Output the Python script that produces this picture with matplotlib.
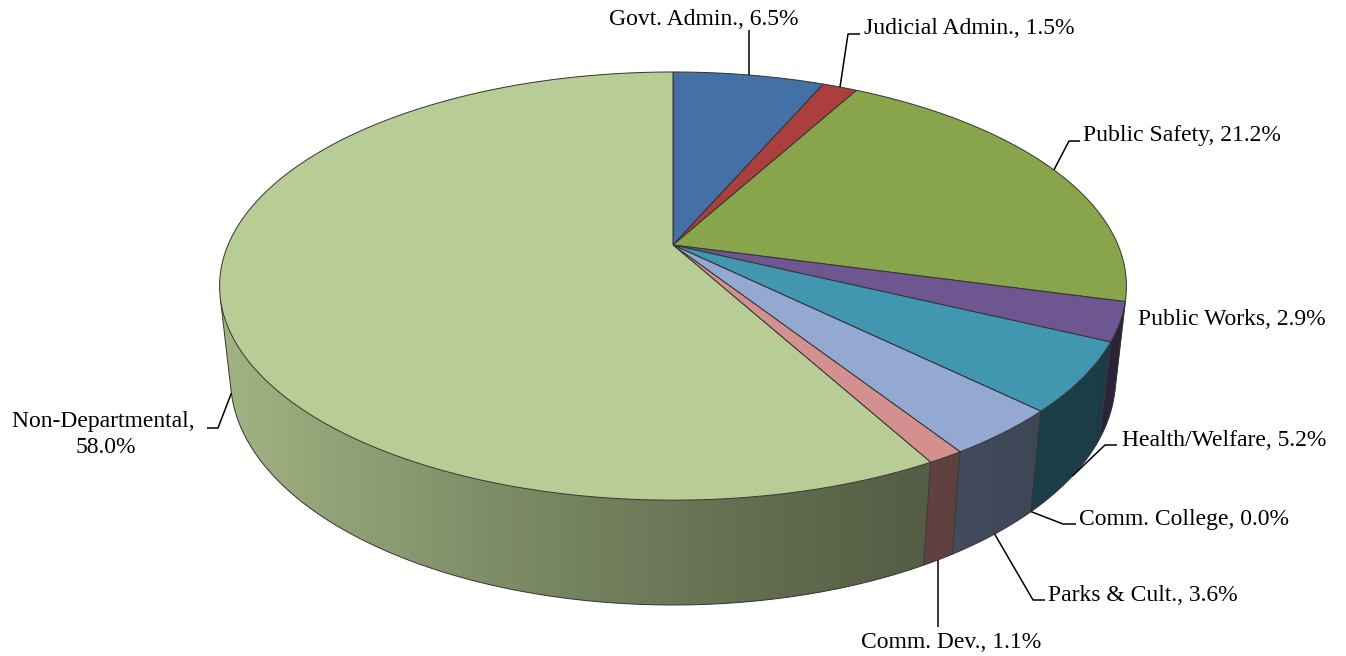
import numpy as np
import matplotlib
matplotlib.use("Agg")
import matplotlib.pyplot as plt
from matplotlib.collections import LineCollection
from matplotlib.patches import Polygon
from matplotlib.colors import to_rgb

# ---- data -------------------------------------------------------------
categories = ["Govt. Admin.", "Judicial Admin.", "Public Safety", "Public Works",
              "Health/Welfare", "Comm. College", "Parks & Cult.", "Comm. Dev.",
              "Non-Departmental"]
shares = [6.5, 1.5, 21.2, 2.9, 5.2, 0.0, 3.6, 1.1, 58.0]
colors = ["#4470A5", "#AA3F3D", "#88A54C", "#6E5691", "#4197B0",
          "#DB843D", "#93A9D1", "#D3908E", "#B8CC95"]

# label layout: (text x, text baseline y, alignment, leader elbow points)
label_layout = {
    "Govt. Admin.":     (704, 25, "center", [(None, 30)]),
    "Judicial Admin.":  (864, 34, "left", [(848, 34), (860, 34)]),
    "Public Safety":    (1083, 141, "left", [(1069, 141), (1080, 141)]),
    "Public Works":     (1138, 325, "left", []),
    "Health/Welfare":   (1122, 446, "left", [(1105, 445), (1117, 445)]),
    "Comm. College":    (1079, 525, "left", [(1063, 524), (1076, 524)]),
    "Parks & Cult.":    (1048, 601, "left", [(1033, 600), (1045, 600)]),
    "Comm. Dev.":       (951, 648, "center", [(None, 627)]),
    "Non-Departmental": (106, 427, "center", [(218, 428), (207, 428)]),
}

# ---- projection of the pie disc --------------------------------------
W, H = 1346, 656
CX, CY = 673.0, 245.0
PHI = np.arcsin(0.4634)      # viewing elevation
DIST = 4.62                  # camera distance (pie radius = 1)
SCALE = 445.0 * DIST
THICK = 0.2365               # pie thickness


def project(alpha, z, r=1.0):
    x = r * np.sin(alpha)
    y = r * np.cos(alpha)
    w = y * np.cos(PHI) - z * np.sin(PHI) + DIST
    v = y * np.sin(PHI) + z * np.cos(PHI)
    return CX + SCALE * x / w, CY - SCALE * v / w


def shade_row(col):
    """Horizontal lighting ramp for a side wall: bright at left, dark at right."""
    xpix = np.arange(W) + 0.5
    t = np.clip((xpix - 220.0) / 907.0, 0, 1)
    f = 0.40 + 0.48 * (1 - t) ** 1.4
    rgb = np.array(to_rgb(col))
    row = f[:, None] * rgb[None, :]
    return np.repeat(row[None, :, :], 2, axis=0)


fig = plt.figure(figsize=(W / 100, H / 100), dpi=100)
ax = fig.add_axes([0, 0, 1, 1])
ax.set_xlim(0, W)
ax.set_ylim(H, 0)
ax.axis("off")

fracs = np.array(shares) / np.sum(shares)
starts = np.concatenate([[0], np.cumsum(fracs)[:-1]]) * 2 * np.pi
ends = np.cumsum(fracs) * 2 * np.pi
edge = "#333333"

# silhouette angles of the cylinder wall
a_sil = np.arccos(-1.0 / (DIST * np.cos(PHI)))
a_right, a_left = a_sil, 2 * np.pi - a_sil

# ---- side walls with shaded gradient ---------------------------------
for a0, a1, col in zip(starts, ends, colors):
    b0, b1 = max(a0, a_right - 0.02), min(a1, a_left + 0.02)
    if b1 <= b0:
        continue
    angs = np.linspace(b0, b1, max(3, int(np.degrees(b1 - b0) * 3)))
    tx, ty = project(angs, 0)
    bx, by = project(angs[::-1], -THICK)
    verts = np.column_stack([np.concatenate([tx, bx]), np.concatenate([ty, by])])
    patch = Polygon(verts, closed=True, facecolor="none", edgecolor="none")
    ax.add_patch(patch)
    im = ax.imshow(shade_row(col), extent=[0, W, H, 0], aspect="auto",
                   interpolation="bilinear", zorder=1)
    im.set_clip_path(patch)

# visible outline of the side wall
seg = []
arc = np.linspace(a_right, a_left, 400)
bx, by = project(arc, -THICK)
seg.append(np.column_stack([bx, by]))
for a in [a_right, a_left] + [e for e in ends[:-1] if a_right < e < a_left]:
    x0, y0 = project(a, 0)
    x1, y1 = project(a, -THICK)
    seg.append(np.array([[x0, y0], [x1, y1]]))
ax.add_collection(LineCollection(seg, colors=edge, linewidths=0.7, zorder=2))

# ---- top faces ---------------------------------------------------------
for a0, a1, col in zip(starts, ends, colors):
    n = max(2, int(np.degrees(a1 - a0) / 0.4))
    angs = np.linspace(a0, a1, n + 1)
    xs, ys = project(angs, 0)
    poly = np.vstack([[CX, CY], np.column_stack([xs, ys]), [CX, CY]])
    ax.fill(poly[:, 0], poly[:, 1], facecolor=col, edgecolor=edge,
            linewidth=0.7, zorder=3)

# ---- data labels with leader lines -------------------------------------
font = dict(family="Liberation Serif", size=17, color="black")
for name, val, a0, a1 in zip(categories, shares, starts, ends):
    tx, ty, ha, elbows = label_layout[name]
    mid = 0.5 * (a0 + a1)
    z = -THICK if np.cos(mid) < 0 else 0.0
    axp, ayp = project(mid, z)
    if elbows:
        pts = [(axp, ayp)] + [((axp if ex is None else ex), ey) for ex, ey in elbows]
        pts = np.array(pts)
        ax.plot(pts[:, 0], pts[:, 1], color="black", lw=1.1, zorder=4,
                solid_capstyle="butt")
    if name == "Non-Departmental":
        ax.text(tx, ty, f"{name}, ", ha="center", va="baseline", **font)
        ax.text(tx, ty + 26, f"{val:.1f}%", ha="center", va="baseline", **font)
    else:
        ax.text(tx, ty, f"{name}, {val:.1f}%", ha=ha, va="baseline", **font)

fig.savefig("out.png", dpi=100, facecolor="white")
